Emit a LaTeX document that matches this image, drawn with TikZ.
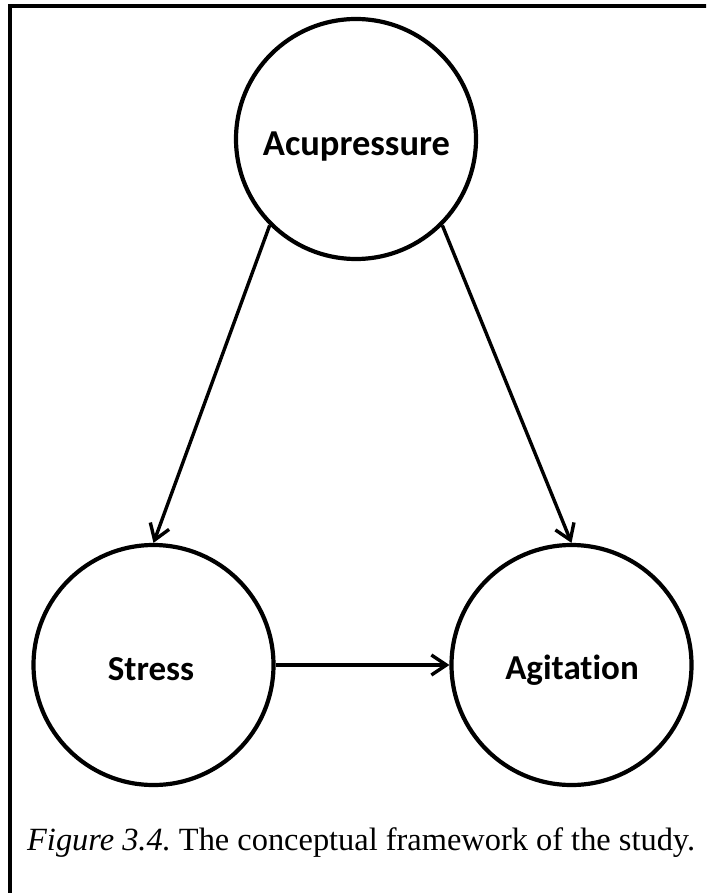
\documentclass[tikz,border=0pt]{standalone}
\usepackage{fontspec}
\setmainfont{Liberation Serif}
\newfontfamily\labelfont[RawFeature={-liga}]{Carlito}
\usetikzlibrary{arrows.meta}
\frenchspacing
\begin{document}
\begin{tikzpicture}[x=1pt,y=-1pt,
  concept/.style={circle,draw,line width=4.2pt,minimum size=240pt,inner sep=0pt},
  conceptlabel/.style={font=\labelfont\bfseries\fontsize{35}{40}\selectfont,anchor=base,inner sep=0pt},
  link/.style={line width=3.4pt,-{Straight Barb[length=15pt,width=20pt,line width=3.4pt]}},
  frameline/.style={line width=3.4pt}]
\useasboundingbox (0,0) rectangle (706,893);
\clip (0,0) rectangle (706,893);
\fill[white] (0,0) rectangle (706,893);
% surrounding frame (only top and left edges fall inside the page)
\draw[frameline] (10,910) -- (10,6) -- (720,6);
% concepts
\node[concept] (acu) at (356,139) {};
\node[concept] (stress) at (153.5,665) {};
\node[concept] (agit) at (571.5,665) {};
\node[conceptlabel,font=\labelfont\bfseries\fontsize{36.5}{40}\selectfont] (acuL) at (356.5,156) {Acupressure};
\node[conceptlabel] (stressL) at (151,680) {Stress};
\node[conceptlabel] (agitL) at (572,679) {Agitation};
% relations
\draw[link] (acu.225) -- (stress.north);
\draw[link] (acu.315) -- (agit.north);
\draw[link] (stress.east) -- (agit.west);
% caption
\node[anchor=base west,inner sep=0pt,font=\fontsize{32.4}{36}\selectfont] (cap) at (27,850)
  {\textit{Figure 3.4.} The conceptual framework of the study.};
\end{tikzpicture}
\end{document}
